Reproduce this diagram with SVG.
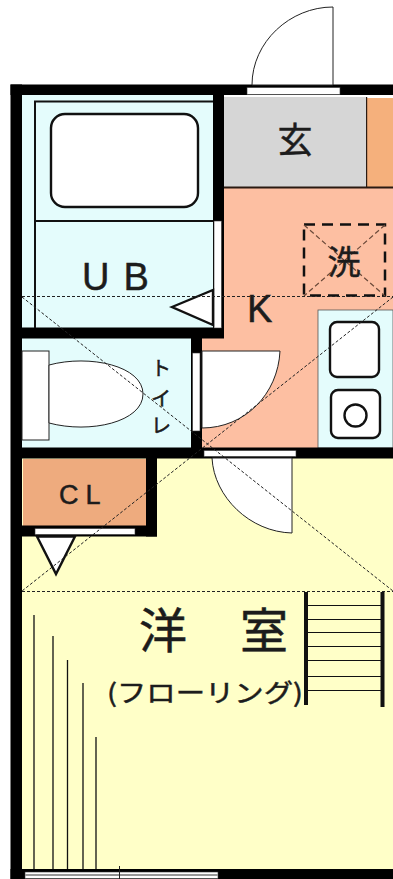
<svg xmlns="http://www.w3.org/2000/svg" width="393" height="879" viewBox="0 0 393 879">
<style>
.w{fill:#000}
.o{fill:#fff;stroke:#222;stroke-width:1}
.h{fill:#fff;stroke:#111;stroke-width:2.400}
.t{font-family:"Liberation Sans",sans-serif;fill:#1c1c1c;stroke:#1c1c1c;stroke-width:.5}
.j{font-family:"Noto Sans CJK JP",sans-serif;fill:#1c1c1c;stroke:#1c1c1c;stroke-width:.5}
.d{fill:none;stroke:#222;stroke-width:1;stroke-dasharray:3 2}
.l{stroke:#111;stroke-width:2;fill:none}
</style>
<rect width="393" height="879" fill="#fff"/>
<g id="floors">
<rect x="22" y="458" width="371" height="412" fill="#ffffc8"/>
<rect x="224" y="188" width="169" height="260" fill="#fdbfa2"/>
<rect x="202" y="328" width="30" height="120" fill="#fdbfa2"/>
<rect x="22" y="95" width="192" height="233" fill="#e4fcfc"/>
<rect x="22" y="338" width="170" height="110" fill="#e4fcfc"/>
<rect x="224" y="97" width="142" height="90" fill="#d6d6d6"/>
<rect x="367" y="98" width="26" height="89" fill="#f5b07c"/>
<rect x="23" y="459" width="124" height="67" fill="#eeab7e"/>
<rect x="318" y="310" width="75" height="138" fill="#e4fcfc" stroke="#555" stroke-width=".8"/>
<rect x="224" y="186.500" width="169" height="2" fill="#2a1a12"/>
<rect x="366" y="97" width="1.200" height="90" fill="#2a1a12"/>
</g>
<g id="walls">
<rect class="w" x="10.500" y="84.500" width="382.500" height="10.500"/>
<rect class="w" x="10.500" y="84.500" width="11.500" height="794.500"/>
<rect class="w" x="10.500" y="869" width="382.500" height="10"/>
<rect class="w" x="213" y="95" width="11" height="243"/>
<rect class="w" x="22" y="327.500" width="202" height="11"/>
<rect class="w" x="191" y="338" width="11" height="120"/>
<rect class="w" x="22" y="447.500" width="371" height="11"/>
<rect class="w" x="146" y="458" width="11" height="78.500"/>
<rect class="w" x="22" y="525.500" width="135" height="11"/>
</g>
<g id="openings" fill="#fff" stroke="#333" stroke-width=".6">
<rect x="247" y="87.500" width="93" height="7"/>
<rect x="214" y="221" width="7.500" height="107"/>
<rect x="192.500" y="353" width="7.500" height="78"/>
<rect x="204" y="450.500" width="92" height="6"/>
<rect x="35" y="528.500" width="100" height="6"/>
<rect x="25" y="872" width="193" height="6.500"/>
<path d="M25 875H110M130 875H218" stroke="#999" stroke-width="2"/>
<path d="M110 875H130M119.500 866V879" stroke="#222" stroke-width="1"/>
</g>
<g id="doors">
<path class="o" d="M252 85C252 42 290 7 333 7V85Z"/>
<path class="o" d="M202 351H280C278 394 245 428 202 428Z"/>
<path class="o" d="M212 458H292V533C250 532 214 497 212 458Z"/>
<path class="h" d="M37 536.500L56 574L75 536.500Z"/>
</g>
<g id="bath">
<path class="l" d="M35 328V101.500H213M35 221H213"/>
<rect class="h" x="51" y="114" width="147" height="93" rx="14"/>
<path class="h" d="M172 307L213 290V325Z"/>
<text class="t" x="82" y="290" font-size="38" letter-spacing="14">UB</text>
</g>
<g id="toilet">
<rect class="o" x="22" y="351" width="27" height="89"/>
<path class="o" d="M49 365C90 354 143 366 143 394C143 422 90 434 49 423Z"/>
<text class="j" x="161" y="376" font-size="20" text-anchor="middle">ト</text>
<text class="j" x="161" y="406" font-size="20" text-anchor="middle">イ</text>
<text class="j" x="161" y="433" font-size="20" text-anchor="middle">レ</text>
</g>
<g id="kitchen">
<rect class="h" x="330" y="322" width="49" height="55" rx="7"/>
<rect class="h" x="331" y="390" width="49" height="48" rx="7"/>
<circle cx="355.500" cy="415.500" r="11" fill="#fff" stroke="#111" stroke-width="2.400"/>
<text class="t" x="247" y="322" font-size="38">K</text>
<text class="j" x="295" y="153" font-size="35" text-anchor="middle">玄</text>
<rect x="304" y="224.500" width="81" height="71" fill="none" stroke="#111" stroke-width="2.500" stroke-dasharray="11 7"/>
<path d="M304 225L385 296M385 225L304 296" fill="none" stroke="#6b4a3a" stroke-width="1.200" stroke-dasharray="5 3"/>
<text class="j" x="344" y="274" font-size="33" text-anchor="middle">洗</text>
</g>
<g id="closet">
<text class="t" x="59" y="504" font-size="27" letter-spacing="7">CL</text>
</g>
<g id="room">
<path d="M34 615V869M53 636V869M67.500 660V869M83 683V869M96 737V869" stroke="#111" stroke-width="1.300" fill="none"/>
<path d="M306 592V705M382.500 592V707" stroke="#111" stroke-width="4" fill="none"/>
<path d="M307 605.500H382M307 619.500H382M307 632.500H382M307 646.500H382M307 660.500H382M307 676.500H382M307 690.500H382" stroke="#111" stroke-width="1.200"/>
<text class="j" x="163" y="648" font-size="48" text-anchor="middle">洋</text>
<text class="j" x="264" y="648" font-size="48" text-anchor="middle">室</text>
<text class="j" x="205" y="702" font-size="25" text-anchor="middle" textLength="196" lengthAdjust="spacingAndGlyphs">(フローリング)</text>
</g>
<g id="guides">
<path class="d" d="M22 296.500H393M22 591.500H393M22 297L393 591M393 297L22 591"/>
</g>
</svg>
